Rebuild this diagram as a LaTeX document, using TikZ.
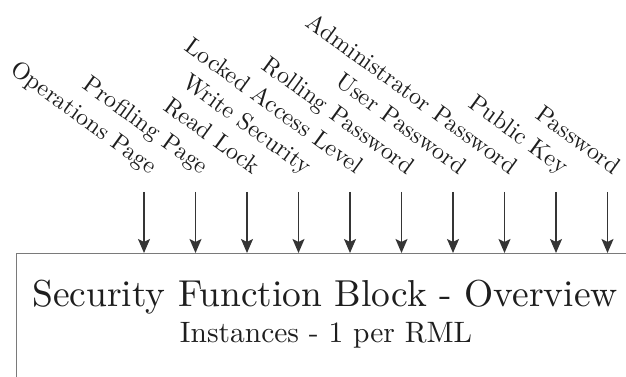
\documentclass[tikz,border=0pt]{standalone}
\usepackage{fontspec}
\setmainfont{lmroman10-regular.otf}
\usepackage{tikz}
\usetikzlibrary{arrows.meta,positioning}
\definecolor{BlockInk}{HTML}{1E1E1E}
\definecolor{BlockEdge}{HTML}{7A7A7A}

\begin{document}
\begin{tikzpicture}[x=1pt,y=1pt,>=Stealth]
\tikzset{
  block/.style={draw=BlockEdge,line width=1.2pt,fill=white,
                minimum width=700pt,minimum height=220pt,anchor=north west},
  title/.style={text=BlockInk,inner sep=0pt,anchor=base,font=\fontsize{37.5}{40}\selectfont},
  subtitle/.style={text=BlockInk,inner sep=0pt,anchor=base,font=\fontsize{29.5}{34}\selectfont},
  sig/.style={text=BlockInk,inner sep=0pt,anchor=base east,rotate=-36,
              font=\fontsize{24}{28}\selectfont},
  feed/.style={BlockInk!90,line width=1.3pt,-{Stealth[length=14pt,width=12pt,inset=3pt]}}
}
\useasboundingbox (0,0) rectangle (626,377);
\clip (0,0) rectangle (626,377);

% ---------- the block ------------------------------------------------------
\node[block] (box) at (16,124) {};
\node[title] (head) at (325,70) {Security Function Block - Overview};
\node[subtitle] (inst) at (326,34) {Instances - 1 per RML};

% ---------- input signals --------------------------------------------------
\coordinate (in1)  at (144.0,185);
\coordinate (in2)  at (195.5,185);
\coordinate (in3)  at (247.0,185);
\coordinate (in4)  at (298.5,185);
\coordinate (in5)  at (350.0,185);
\coordinate (in6)  at (401.5,185);
\coordinate (in7)  at (453.0,185);
\coordinate (in8)  at (504.5,185);
\coordinate (in9)  at (556.0,185);
\coordinate (in10) at (607.5,185);

\node[sig] (opspage)  at ([shift={(6,17)}]in1)  {Operations Page};
\node[sig] (profpage) at ([shift={(6,17)}]in2)  {Profiling Page};
\node[sig] (rdlock)   at ([shift={(6,17)}]in3)  {Read Lock};
\node[sig] (wrsec)    at ([shift={(6,17)}]in4)  {Write Security};
\node[sig] (lockacc)  at ([shift={(6,17)}]in5)  {Locked Access Level};
\node[sig] (rollpw)   at ([shift={(6,17)}]in6)  {Rolling Password};
\node[sig] (userpw)   at ([shift={(6,17)}]in7)  {User Password};
\node[sig] (adminpw)  at ([shift={(6,17)}]in8)  {Administrator Password};
\node[sig] (pubkey)   at ([shift={(6,17)}]in9)  {Public Key};
\node[sig] (passwd)   at ([shift={(6,17)}]in10) {Password};

\draw[feed] (in1)  -- (in1  |- box.north);
\draw[feed] (in2)  -- (in2  |- box.north);
\draw[feed] (in3)  -- (in3  |- box.north);
\draw[feed] (in4)  -- (in4  |- box.north);
\draw[feed] (in5)  -- (in5  |- box.north);
\draw[feed] (in6)  -- (in6  |- box.north);
\draw[feed] (in7)  -- (in7  |- box.north);
\draw[feed] (in8)  -- (in8  |- box.north);
\draw[feed] (in9)  -- (in9  |- box.north);
\draw[feed] (in10) -- (in10 |- box.north);
\end{tikzpicture}
\end{document}
